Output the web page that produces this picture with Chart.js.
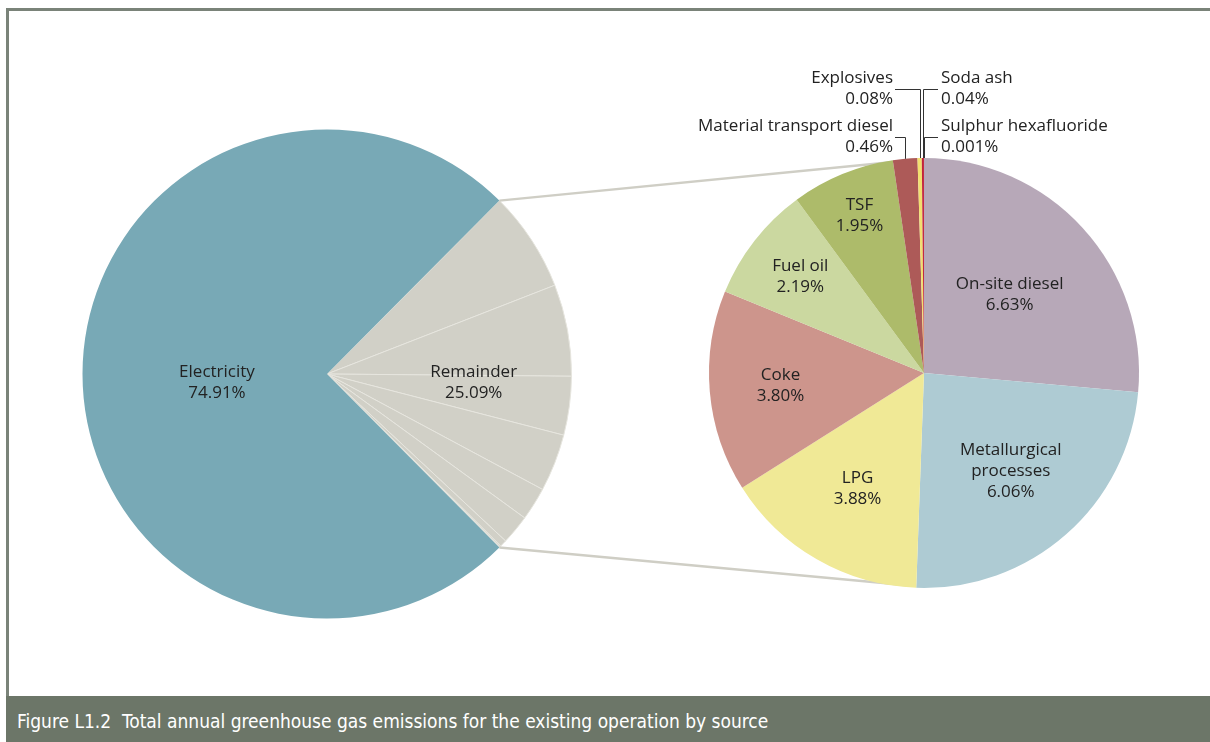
<!DOCTYPE html>
<html>
<head>
<meta charset="utf-8">
<script src="https://cdn.jsdelivr.net/npm/chart.js@4.4.1/dist/chart.umd.min.js"></script>
<style>
body{margin:0;background:#fff;}
#frame{position:relative;width:1210px;height:742px;overflow:hidden;background:#fff;}
.rule{position:absolute;background:#7a8379;}
#top{left:6px;top:8px;width:1204px;height:3px;}
#side{left:6px;top:8px;width:3px;height:688px;}
canvas{position:absolute;left:0;top:0;}
#caption{position:absolute;left:6px;top:696px;width:1204px;height:46px;background:#6c7668;color:#fff;
  font-family:"DejaVu Sans Condensed","DejaVu Sans",sans-serif;font-stretch:condensed;font-size:19px;line-height:51px;padding-left:11px;box-sizing:border-box;white-space:pre;}
</style>
</head>
<body>
<div id="frame">
  <div class="rule" id="top"></div>
  <div class="rule" id="side"></div>
  <canvas id="mainPie" width="1210" height="696"></canvas>
  <canvas id="detailPie" width="1210" height="696"></canvas>
  <div id="caption">Figure L1.2  Total annual greenhouse gas emissions for the existing operation by source</div>
</div>
<script>
// shares of total annual emissions, %
var electricityLabel = 'Electricity';
var electricityShare = 74.91;
var remainderLabel = 'Remainder';
var remainderShare = 25.09;

var sources = ['On-site diesel', 'Metallurgical processes', 'LPG', 'Coke', 'Fuel oil', 'TSF',
	'Material transport diesel', 'Explosives', 'Soda ash', 'Sulphur hexafluoride'];
var shares = [6.63, 6.06, 3.88, 3.80, 2.19, 1.95, 0.46, 0.08, 0.04, 0.001];

// how long names break inside the slice
var wrapped = {'Metallurgical processes': ['Metallurgical', 'processes']};

var electricityColor = '#78a9b6';
var remainderColor = '#d1d0c7';
var sourceColors = ['#b7a8b8', '#aecbd3', '#f0e996', '#cd958c', '#cbd8a0', '#adbb6a',
	'#ad5a58', '#f2e070', '#c0253c', '#e01e3c'];

// distance of the text from the centre, as a fraction of the radius
var insideRadius = [0.54, 0.61, 0.62, 0.67, 0.73, 0.79];
// thin slices get their label outside, on an elbow leader
var callouts = [
	{side: 'left', elbowY: 137, textX: 893},
	{side: 'left', elbowY: 89, textX: 893},
	{side: 'right', elbowY: 89, textX: 941},
	{side: 'right', elbowY: 137, textX: 941}
];

var FONT = '17px "Open Sans"';
var TEXT = '#222';
var LINE_H = 21;

function pct(v) {
	return (v >= 0.01 ? v.toFixed(2) : v.toFixed(3)) + '%';
}

function textBlock(ctx, lines, x, y, align) {
	ctx.save();
	ctx.font = FONT;
	ctx.fillStyle = TEXT;
	ctx.textAlign = align || 'center';
	ctx.textBaseline = 'middle';
	var y0 = y - (lines.length - 1) * LINE_H / 2;
	lines.forEach(function (l, i) { ctx.fillText(l, x, y0 + i * LINE_H); });
	ctx.restore();
}

function polar(arc, angle, r) {
	return {x: arc.x + Math.cos(angle) * r, y: arc.y + Math.sin(angle) * r};
}

// left pie: remainder wedge (split by source) centred on 3 o'clock, electricity the rest
var remainderSweep = remainderShare / 100 * 360;

var mainLabels = {
	id: 'mainLabels',
	afterDatasetsDraw: function (chart) {
		var arcs = chart.getDatasetMeta(0).data;
		var ctx = chart.ctx;
		var first = arcs[0], last = arcs[sources.length - 1], elec = arcs[sources.length];
		var eMid = (elec.startAngle + elec.endAngle) / 2;
		var p = polar(elec, eMid, elec.outerRadius * 0.45);
		textBlock(ctx, [electricityLabel, pct(electricityShare)], p.x, p.y + 9);
		var rMid = (first.startAngle + last.endAngle) / 2;
		p = polar(first, rMid, first.outerRadius * 0.6);
		textBlock(ctx, [remainderLabel, pct(remainderShare)], p.x, p.y + 9);
	}
};

var mainChart = new Chart(document.getElementById('mainPie'), {
	type: 'pie',
	data: {
		labels: sources.concat([electricityLabel]),
		datasets: [{
			data: shares.concat([electricityShare]),
			backgroundColor: sources.map(function () { return remainderColor; }).concat([electricityColor]),
			borderColor: sources.map(function () { return '#e6e5de'; }).concat([electricityColor]),
			borderWidth: sources.map(function () { return 1; }).concat([0])
		}]
	},
	options: {
		responsive: false,
		animation: false,
		rotation: 90 - remainderSweep / 2,
		layout: {padding: {left: 82, top: 129, right: 638, bottom: 77}},
		plugins: {legend: {display: false}, tooltip: {enabled: false}}
	},
	plugins: [mainLabels]
});

var detailLabels = {
	id: 'detailLabels',
	beforeDatasetsDraw: function (chart) {
		// connector lines from the remainder wedge to the breakdown pie
		var ctx = chart.ctx;
		var big = mainChart.getDatasetMeta(0).data;
		var a0 = big[0], a1 = big[sources.length - 1];
		var small = chart.getDatasetMeta(0).data[0];
		var from1 = polar(a0, a0.startAngle, a0.outerRadius);
		var from2 = polar(a1, a1.endAngle, a1.outerRadius);
		var to1 = polar(small, -97 * Math.PI / 180, small.outerRadius - 2);
		var to2 = polar(small, 93 * Math.PI / 180, small.outerRadius - 2);
		ctx.save();
		ctx.strokeStyle = '#cfcec5';
		ctx.lineWidth = 2.5;
		ctx.beginPath();
		ctx.moveTo(from1.x, from1.y); ctx.lineTo(to1.x, to1.y);
		ctx.moveTo(from2.x, from2.y); ctx.lineTo(to2.x, to2.y);
		ctx.stroke();
		ctx.restore();
	},
	afterDatasetsDraw: function (chart) {
		var ctx = chart.ctx;
		var arcs = chart.getDatasetMeta(0).data;
		insideRadius.forEach(function (f, i) {
			var a = arcs[i];
			var p = polar(a, (a.startAngle + a.endAngle) / 2, a.outerRadius * f);
			var lines = (wrapped[sources[i]] || [sources[i]]).concat([pct(shares[i])]);
			textBlock(ctx, lines, p.x, p.y);
		});
		callouts.forEach(function (c, k) {
			var i = insideRadius.length + k;
			var a = arcs[i];
			var edge = polar(a, (a.startAngle + a.endAngle) / 2, a.outerRadius);
			var vx = Math.round(edge.x) + 0.5;
			ctx.save();
			ctx.strokeStyle = '#333';
			ctx.lineWidth = 1;
			ctx.beginPath();
			ctx.moveTo(vx, edge.y);
			ctx.lineTo(vx, c.elbowY + 0.5);
			ctx.lineTo(c.side === 'left' ? c.textX + 2 : c.textX - 3, c.elbowY + 0.5);
			ctx.stroke();
			ctx.restore();
			textBlock(ctx, [sources[i], pct(shares[i])], c.textX, c.elbowY,
				c.side === 'left' ? 'right' : 'left');
		});
	}
};

new Chart(document.getElementById('detailPie'), {
	type: 'pie',
	data: {
		labels: sources,
		datasets: [{
			data: shares,
			backgroundColor: sourceColors,
			borderWidth: 0
		}]
	},
	options: {
		responsive: false,
		animation: false,
		layout: {padding: {left: 709, top: 158, right: 71, bottom: 108}},
		plugins: {legend: {display: false}, tooltip: {enabled: false}}
	},
	plugins: [detailLabels]
});
</script>
</body>
</html>
